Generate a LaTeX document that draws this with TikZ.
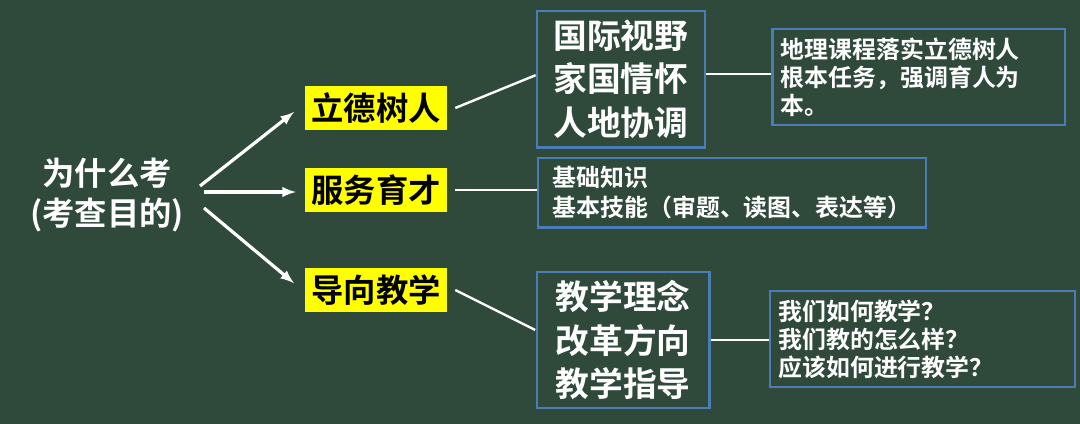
\documentclass[tikz,border=0pt]{standalone}
\usepackage{fontspec}
\setmainfont{Noto Sans CJK SC}[BoldFont={* Bold}]
\usetikzlibrary{positioning}
\definecolor{board}{HTML}{2F4A3B}
\definecolor{boxblue}{HTML}{4A7DB5}
\definecolor{tagyellow}{HTML}{FFFF00}
\tikzset{
  tagbox/.style={fill=tagyellow, text=black, font=\bfseries\fontsize{23}{26}\selectfont, inner sep=2pt, minimum width=3.55cm, minimum height=1.1cm},
  bigbox/.style={draw=boxblue, line width=0.6mm, text=white, font=\bfseries\fontsize{24}{31}\selectfont, align=left, inner sep=6pt},
  notebox/.style={draw=boxblue, line width=0.6mm, text=white, font=\bfseries\fontsize{17}{20}\selectfont, align=left, inner sep=6pt, anchor=north west},
  link/.style={white, line width=0.6mm},
  arr/.style={white, line width=0.8mm, -latex}
}
\begin{document}
\begin{tikzpicture}
  \fill[board] (0,0) rectangle (27,10.6);
  \useasboundingbox (0,0) rectangle (27,10.6);

  \node[text=white, font=\bfseries\fontsize{23}{28}\selectfont, align=center] (why) at (2.68,5.72) {为什么考\\(考查目的)};

  \node[tagbox] (lide) at (9.4,7.9) {立德树人};
  \node[tagbox] (fuwu) at (9.4,5.85) {服务育才};
  \node[tagbox] (daoxiang) at (9.4,3.35) {导向教学};

  \draw[arr] (5.0,5.95) -- (7.35,7.8);
  \draw[arr] (5.1,5.8) -- (7.4,5.8);
  \draw[arr] (5.1,5.4) -- (7.35,3.52);

  % top branch
  \node[bigbox, minimum width=4.2cm, minimum height=3.42cm] (view) at (15.52,8.62) {国际视野\\家国情怀\\人地协调};
  \node[notebox, text width=6.9cm] (task) at (19.28,9.9) {地理课程落实立德树人\\根本任务，强调育人为\\本。};
  \draw[link] (lide.east) ++(0.2,0) coordinate (l1) -- (view.west |- 0,8.72);
  \draw[link] (view.east |- 0,8.75) -- (task.west |- 0,8.75);

  % middle branch
  \node[bigbox, font=\bfseries\fontsize{17}{21}\selectfont, minimum width=9.7cm, minimum height=1.7cm] (basic) at (18.3,5.78) {基础知识\\基本技能（审题、读图、表达等）};
  \draw[link] (fuwu.east) ++(0.2,0) coordinate (l2) -- (basic.west |- l2);

  % bottom branch
  \node[bigbox, minimum width=4.32cm, minimum height=3.38cm] (teach) at (15.58,2.1) {教学理念\\改革方向\\教学指导};
  \node[notebox, text width=7.2cm] (ask) at (19.22,3.35) {我们如何教学？\\我们教的怎么样？\\应该如何进行教学？};
  \draw[link] (daoxiang.east) ++(0.2,0) coordinate (l3) -- (13.38,2.35);
  \draw[link] (teach.east |- 0,2.1) -- (ask.west |- 0,2.1);
\end{tikzpicture}
\end{document}
